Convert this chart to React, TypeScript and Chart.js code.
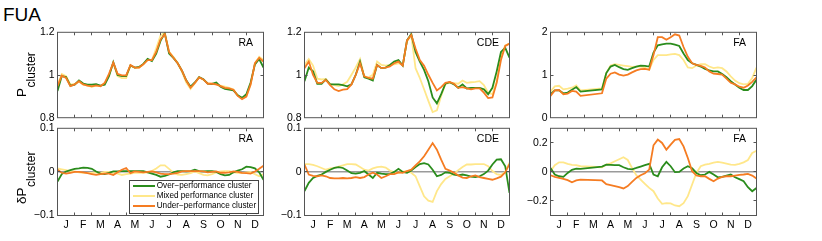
import React, { useEffect, useRef } from 'react';
import { Chart, registerables } from 'chart.js';

Chart.register(...registerables);

const FONT = "'Liberation Sans', Arial, Helvetica, sans-serif";

const MONTHS = ['J', 'F', 'M', 'A', 'M', 'J', 'J', 'A', 'S', 'O', 'N', 'D'];
const MONTH_CENTERS = [0.5, 1.5, 2.5, 3.5, 4.5, 5.5, 6.5, 7.5, 8.5, 9.5, 10.5, 11.5];
const MONTH_EDGES = [1, 2, 3, 4, 5, 6, 7, 8, 9, 10, 11];
const WEEKS = [
  0, 0.25, 0.5, 0.75, 1, 1.25, 1.5, 1.75, 2, 2.25, 2.5, 2.75, 3, 3.25, 3.5, 3.75, 4, 4.25, 4.5, 4.75,
  5, 5.25, 5.5, 5.75, 6, 6.25, 6.5, 6.75, 7, 7.25, 7.5, 7.75, 8, 8.25, 8.5, 8.75, 9, 9.25, 9.5, 9.75,
  10, 10.25, 10.5, 10.75, 11, 11.25, 11.5, 11.75, 12,
];

const SERIES = ['Over\u2212performance cluster', 'Mixed performance cluster', 'Under\u2212performance cluster'];
const COLORS = ['#2a8c1c', '#ffe78a', '#f57c22'];
const DRAW_ORDER = [2, 3, 1];

// ---- P_cluster, RA ----
const RA_P_OVER = [
  0.925, 0.995, 0.99, 0.95, 0.955, 0.975, 0.96, 0.955, 0.955, 0.957,
  0.95, 0.955, 0.995, 1.06, 1.0, 0.995, 0.995, 1.045, 1.035, 1.038,
  1.052, 1.075, 1.065, 1.1, 1.16, 1.195, 1.1, 1.08, 1.055, 1.02,
  0.975, 0.945, 0.965, 0.99, 0.98, 0.96, 0.958, 0.965, 0.945, 0.935,
  0.932, 0.928, 0.905, 0.893, 0.91, 0.965, 1.05, 1.075, 1.035,
];
const RA_P_MIXED = [
  0.955, 1.005, 0.995, 0.955, 0.958, 0.968, 0.955, 0.95, 0.945, 0.95,
  0.948, 0.962, 1.0, 1.055, 0.995, 0.985, 0.985, 1.045, 1.033, 1.033,
  1.05, 1.072, 1.07, 1.125, 1.185, 1.2, 1.11, 1.085, 1.058, 1.015,
  0.965, 0.935, 0.96, 0.99, 0.978, 0.962, 0.96, 0.955, 0.95, 0.945,
  0.94, 0.932, 0.905, 0.89, 0.9, 0.955, 1.055, 1.085, 1.07,
];
const RA_P_UNDER = [
  0.948, 0.997, 0.986, 0.948, 0.956, 0.971, 0.956, 0.95, 0.947, 0.951,
  0.947, 0.963, 1.005, 1.058, 1.005, 0.998, 0.998, 1.047, 1.035, 1.035,
  1.05, 1.07, 1.07, 1.108, 1.166, 1.192, 1.108, 1.081, 1.055, 1.02,
  0.974, 0.94, 0.963, 0.989, 0.979, 0.959, 0.959, 0.956, 0.948, 0.94,
  0.937, 0.931, 0.902, 0.887, 0.899, 0.956, 1.055, 1.081, 1.063,
];

// ---- P_cluster, CDE ----
const CDE_P_OVER = [
  0.971, 1.035, 1.017, 0.959, 0.959, 0.979, 0.956, 0.956, 0.956, 0.953,
  0.947, 0.956, 1.001, 1.063, 0.989, 0.983, 0.974, 1.047, 1.032, 1.035,
  1.047, 1.063, 1.07, 1.044, 1.162, 1.192, 1.108, 1.063, 1.024, 0.971,
  0.895, 0.867, 0.91, 0.959, 0.966, 0.956, 0.94, 0.956, 0.937, 0.94,
  0.94, 0.94, 0.933, 0.91, 0.94, 1.017, 1.108, 1.127, 1.081,
];
const CDE_P_MIXED = [
  1.047, 1.075, 1.044, 0.983, 0.979, 0.982, 0.959, 0.953, 0.948, 0.956,
  0.968, 1.001, 1.035, 1.075, 0.994, 0.989, 1.001, 1.063, 1.047, 1.044,
  1.047, 1.05, 1.055, 1.047, 1.157, 1.185, 1.032, 0.986, 0.933, 0.879,
  0.826, 0.834, 0.902, 0.959, 0.963, 0.962, 0.959, 0.974, 0.963, 0.966,
  0.968, 0.971, 0.953, 0.917, 0.91, 0.971, 1.093, 1.139, 1.147,
];
const CDE_P_UNDER = [
  1.032, 1.063, 1.001, 0.963, 0.963, 0.977, 0.953, 0.933, 0.925, 0.931,
  0.934, 0.956, 1.001, 1.055, 0.994, 0.986, 0.983, 1.047, 1.032, 1.035,
  1.04, 1.055, 1.063, 1.044, 1.162, 1.188, 1.124, 1.07, 1.044, 1.001,
  0.963, 0.928, 0.943, 0.963, 0.968, 0.959, 0.94, 0.943, 0.937, 0.933,
  0.937, 0.937, 0.917, 0.892, 0.895, 0.963, 1.07, 1.136, 1.147,
];

// ---- P_cluster, FA (weeks 9-12 missing) ----
const FA_P_OVER = [
  0.55, 0.641, 0.641, 0.572, 0.588, 0.656, 0.718, 0.611, null, null,
  null, null, 0.664, 1.046, 1.198, 1.237, 1.183, 1.137, 1.122, 1.16,
  1.198, 1.221, 1.214, 1.198, 1.527, 1.695, 1.718, 1.733, 1.733, 1.71,
  1.679, 1.504, 1.351, 1.275, 1.237, 1.198, 1.145, 1.107, 1.084, 1.084,
  1.023, 0.947, 0.855, 0.779, 0.702, 0.649, 0.649, 0.74, 0.893,
];
const FA_P_MIXED = [
  0.611, 0.733, 0.748, 0.664, 0.679, 0.702, 0.756, 0.641, null, null,
  null, null, 0.687, 1.046, 1.221, 1.252, 1.237, 1.221, 1.206, 1.191,
  1.198, 1.198, 1.176, 1.122, 1.351, 1.466, 1.466, 1.466, 1.481, 1.496,
  1.466, 1.351, 1.176, 1.16, 1.221, 1.252, 1.252, 1.198, 1.16, 1.176,
  1.16, 1.084, 0.969, 0.87, 0.809, 0.779, 0.794, 0.931, 1.176,
];
const FA_P_UNDER = [
  0.511, 0.641, 0.649, 0.55, 0.565, 0.626, 0.611, 0.511, null, null,
  null, null, 0.572, 0.916, 1.03, 1.061, 1.008, 0.985, 1.008, 1.061,
  1.107, 1.137, 1.145, 1.122, 1.466, 1.885, 1.885, 1.824, 1.885, 1.954,
  1.924, 1.656, 1.427, 1.275, 1.237, 1.214, 1.176, 1.084, 1.03, 1.023,
  1.008, 0.916, 0.817, 0.779, 0.725, 0.702, 0.756, 0.84, 0.947,
];

// ---- deltaP_cluster, RA ----
const RA_D_OVER = [
  -0.022, -0.005, 0.001, 0.004, 0.007, 0.008, 0.01, 0.009, 0.007, 0.001,
  -0.004, -0.005, -0.002, 0.001, 0.001, 0.002, 0.002, 0.002, 0.002, 0.002,
  0.002, -0.001, -0.004, -0.007, -0.011, -0.009, -0.006, -0.001, 0.002, 0.002,
  0.001, 0.002, 0.005, 0.002, 0.001, 0.002, 0.002, 0, -0.005, -0.008,
  -0.007, -0.001, 0.003, 0.006, 0.012, 0.011, 0.008, -0.001, -0.018,
];
const RA_D_MIXED = [
  0.008, 0.006, 0.004, 0.002, 0.001, -0.001, -0.002, -0.003, -0.002, -0.001,
  -0.002, 0, 0, -0.002, -0.004, -0.007, -0.005, -0.004, -0.002, -0.002,
  -0.002, -0.001, 0.002, 0.008, 0.015, 0.015, 0.007, -0.002, -0.006, -0.007,
  -0.005, -0.003, 0.001, -0.003, -0.007, -0.008, -0.005, -0.001, 0.001, 0.002,
  0.002, -0.001, -0.002, -0.003, -0.001, 0, -0.005, -0.01, -0.005,
];
const RA_D_UNDER = [
  0.005, -0.002, -0.004, -0.002, 0, 0, -0.001, -0.003, -0.005, -0.007,
  -0.005, -0.004, -0.004, -0.007, -0.001, 0.005, 0.009, -0.003, 0.001, 0,
  -0.001, 0, 0.001, -0.001, -0.004, -0.005, -0.005, -0.004, -0.002, 0.001,
  0.002, 0.002, 0.002, 0.002, 0.001, -0.001, 0, 0.001, -0.002, -0.002,
  -0.001, 0.001, 0, -0.002, -0.003, -0.004, 0.001, 0.007, 0.014,
];

// ---- deltaP_cluster, CDE ----
const CDE_D_OVER = [
  -0.044, -0.025, -0.014, -0.009, -0.006, 0, 0.005, 0.009, 0.011, 0.009,
  0.003, -0.003, -0.004, -0.002, 0.002, -0.006, -0.014, -0.002, -0.004, -0.005,
  -0.005, 0, 0.007, 0, -0.002, 0.003, 0.011, 0.018, 0.02, 0.017,
  0.005, -0.01, -0.007, -0.001, -0.002, -0.006, -0.008, -0.006, -0.008, -0.011,
  -0.012, -0.01, -0.005, 0.003, 0.017, 0.028, 0.029, 0.013, -0.048,
];
const CDE_D_MIXED = [
  0.018, 0.018, 0.016, 0.013, 0.009, 0.005, 0.008, 0.009, 0.012, 0.015,
  0.018, 0.018, 0.017, 0.011, 0.005, 0.003, 0.008, 0.011, 0.012, 0.01,
  0.003, -0.001, -0.002, 0, 0.002, -0.002, -0.01, -0.033, -0.056, -0.066,
  -0.069, -0.044, -0.028, -0.016, -0.01, -0.004, 0.004, 0.011, 0.017, 0.017,
  0.018, 0.018, 0.018, 0.013, 0.002, -0.005, -0.007, 0, 0.021,
];
const CDE_D_UNDER = [
  0.017, -0.006, -0.009, -0.01, -0.008, -0.01, -0.014, -0.015, -0.015, -0.014,
  -0.015, -0.014, -0.012, -0.014, -0.012, -0.006, -0.002, -0.006, -0.014, -0.01,
  -0.005, -0.005, -0.001, -0.002, 0.002, 0.005, 0.015, 0.024, 0.036, 0.051,
  0.066, 0.051, 0.028, 0.007, 0.003, -0.002, -0.008, -0.013, -0.014, -0.01,
  -0.008, -0.012, -0.014, -0.016, -0.018, -0.015, -0.011, -0.001, 0.018,
];

// ---- deltaP_cluster, FA (weeks 9-12 missing) ----
const FA_D_OVER = [
  0.027, -0.018, -0.03, -0.034, -0.007, 0.014, 0.023, 0.021, null, null,
  null, null, 0.037, 0.05, 0.048, 0.046, 0.046, 0.032, 0.021, 0.018,
  0.027, 0.037, 0.046, 0.055, -0.018, -0.03, 0.032, 0.069, 0.039, -0.002,
  0, 0.023, 0.039, 0.025, -0.007, -0.023, -0.018, 0, -0.018, -0.037,
  -0.034, -0.025, -0.018, -0.037, -0.05, -0.064, -0.105, -0.133, -0.11,
];
const FA_D_MIXED = [
  0.005, 0.046, 0.066, 0.066, 0.055, 0.048, 0.046, 0.039, null, null,
  null, null, 0.032, 0.05, 0.059, 0.073, 0.087, 0.101, 0.082, 0.027,
  -0.023, -0.053, -0.082, -0.11, -0.133, -0.183, -0.22, -0.215, -0.217, -0.231,
  -0.236, -0.215, -0.167, -0.087, -0.007, 0.039, 0.05, 0.055, 0.064, 0.069,
  0.064, 0.057, 0.05, 0.048, 0.055, 0.066, 0.082, 0.13, 0.146,
];
const FA_D_UNDER = [
  -0.023, -0.034, -0.041, -0.048, -0.057, -0.071, -0.059, -0.053, null, null,
  null, null, -0.059, -0.085, -0.091, -0.098, -0.105, -0.114, -0.098, -0.069,
  -0.041, -0.023, -0.009, 0.016, 0.183, 0.222, 0.199, 0.153, 0.188, 0.22,
  0.226, 0.176, 0.096, 0.005, -0.025, -0.03, -0.03, -0.048, -0.064, -0.046,
  -0.034, -0.03, -0.03, -0.025, -0.021, -0.018, -0.014, -0.025, -0.046,
];

const TICKS_P = [0.8, 1, 1.2];
const TICKS_P_FA = [0, 1, 2];
const TICKS_D = [-0.1, 0, 0.1];
const TICKS_D_FA = [-0.2, 0, 0.2];

type Vals = (number | null)[];
interface Spec {
  title: string;
  row: number;
  col: number;
  over: Vals;
  mixed: Vals;
  under: Vals;
  min: number;
  max: number;
  ticks: number[];
}

const SPECS: Spec[] = [
  { title: 'RA', row: 0, col: 0, over: RA_P_OVER, mixed: RA_P_MIXED, under: RA_P_UNDER, min: 0.8, max: 1.2, ticks: TICKS_P },
  { title: 'CDE', row: 0, col: 1, over: CDE_P_OVER, mixed: CDE_P_MIXED, under: CDE_P_UNDER, min: 0.8, max: 1.2, ticks: TICKS_P },
  { title: 'FA', row: 0, col: 2, over: FA_P_OVER, mixed: FA_P_MIXED, under: FA_P_UNDER, min: 0, max: 2, ticks: TICKS_P_FA },
  { title: 'RA', row: 1, col: 0, over: RA_D_OVER, mixed: RA_D_MIXED, under: RA_D_UNDER, min: -0.1, max: 0.1, ticks: TICKS_D },
  { title: 'CDE', row: 1, col: 1, over: CDE_D_OVER, mixed: CDE_D_MIXED, under: CDE_D_UNDER, min: -0.1, max: 0.1, ticks: TICKS_D },
  { title: 'FA', row: 1, col: 2, over: FA_D_OVER, mixed: FA_D_MIXED, under: FA_D_UNDER, min: -0.3, max: 0.3, ticks: TICKS_D_FA },
];

// layout
const Y_AXIS_W = 40.5;
const PAD_RIGHT = 4.5;
const COLS = [
  { canvasLeft: 17, canvasW: 251 },
  { canvasLeft: 264, canvasW: 250 },
  { canvasLeft: 510, canvasW: 251 },
];
const ROWS = [
  { canvasTop: 23, canvasH: 104, padTop: 8.5, padBottom: 8.5, xAxisH: 0 },
  { canvasTop: 119, canvasH: 115, padTop: 8.5, padBottom: 0.5, xAxisH: 18 },
];

function fmt(v: number): string {
  const r = Math.round(v * 10) / 10;
  return r < 0 ? '\u2212' + String(-r) : String(r);
}

const framePlugin = {
  id: 'panelFrame',
  afterDatasetsDraw(chart: any) {
    const { ctx, chartArea: a, scales } = chart;
    ctx.save();
    ctx.strokeStyle = '#555';
    ctx.lineWidth = 1;
    ctx.beginPath();
    for (const m of MONTH_EDGES) {
      const px = Math.floor(scales.x.getPixelForValue(m)) + 0.5;
      ctx.moveTo(px, a.top);
      ctx.lineTo(px, a.top + 3);
      ctx.moveTo(px, a.bottom);
      ctx.lineTo(px, a.bottom - 3);
    }
    for (const t of scales.y.ticks) {
      const py = Math.floor(scales.y.getPixelForValue(t.value)) + 0.5;
      if (py <= a.top + 1 || py >= a.bottom - 1) continue;
      ctx.moveTo(a.left, py);
      ctx.lineTo(a.left + 3, py);
      ctx.moveTo(a.right, py);
      ctx.lineTo(a.right - 3, py);
    }
    ctx.stroke();
    ctx.strokeRect(a.left, a.top, a.right - a.left, a.bottom - a.top);
    ctx.restore();
  },
};

function buildConfig(spec: Spec): any {
  const row = ROWS[spec.row];
  const isDelta = spec.row === 1;
  const tickFont = { family: FONT, size: 10.5 };
  const datasets = [spec.over, spec.mixed, spec.under].map((vals, i) => ({
    label: SERIES[i],
    data: WEEKS.map((x, j) => ({ x, y: vals[j] })),
    borderColor: COLORS[i],
    backgroundColor: COLORS[i],
    borderWidth: 1.8,
    pointRadius: 0,
    tension: 0,
    fill: false,
    order: DRAW_ORDER[i],
    spanGaps: true,
  }));
  return {
    type: 'line',
    data: { datasets },
    options: {
      animation: false,
      responsive: false,
      maintainAspectRatio: false,
      events: [],
      layout: { padding: { left: 0, right: PAD_RIGHT, top: row.padTop, bottom: row.padBottom } },
      plugins: { legend: { display: false }, tooltip: { enabled: false }, title: { display: false } },
      scales: {
        x: {
          type: 'linear',
          min: 0,
          max: 12,
          afterBuildTicks: (s: any) => {
            s.ticks = MONTH_CENTERS.map((v) => ({ value: v }));
          },
          afterFit: (s: any) => {
            s.height = row.xAxisH;
          },
          ticks: {
            display: isDelta,
            autoSkip: false,
            maxRotation: 0,
            minRotation: 0,
            padding: 3,
            color: '#000',
            font: tickFont,
            callback: (_v: any, i: number) => MONTHS[i],
          },
          grid: { display: false, drawTicks: false },
          border: { display: false },
        },
        y: {
          type: 'linear',
          min: spec.min,
          max: spec.max,
          afterBuildTicks: (s: any) => {
            s.ticks = spec.ticks.map((v) => ({ value: v }));
          },
          afterFit: (s: any) => {
            s.width = Y_AXIS_W;
          },
          ticks: {
            autoSkip: false,
            padding: 3,
            color: '#000',
            font: tickFont,
            callback: (v: any) => fmt(Number(v)),
          },
          grid: {
            display: isDelta,
            drawTicks: false,
            lineWidth: 1.5,
            color: (c: any) => (c.tick && c.tick.value === 0 ? '#9a9a9a' : 'rgba(0,0,0,0)'),
          },
          border: { display: false },
        },
      },
    },
    plugins: [framePlugin],
  };
}

function Panel({ spec }: { spec: Spec }) {
  const ref = useRef<HTMLCanvasElement>(null);
  const col = COLS[spec.col];
  const row = ROWS[spec.row];
  useEffect(() => {
    if (!ref.current) return;
    const chart = new Chart(ref.current, buildConfig(spec));
    return () => chart.destroy();
  }, [spec]);
  return (
    <canvas
      ref={ref}
      width={col.canvasW}
      height={row.canvasH}
      style={{ position: 'absolute', left: col.canvasLeft, top: row.canvasTop, width: col.canvasW, height: row.canvasH }}
    />
  );
}

function PanelLabel({ spec }: { spec: Spec }) {
  const col = COLS[spec.col];
  const row = ROWS[spec.row];
  const plotRight = col.canvasLeft + col.canvasW - PAD_RIGHT;
  const plotTop = row.canvasTop + row.padTop;
  return (
    <div
      style={{
        position: 'absolute',
        left: plotRight - 10.5 - 60,
        width: 60,
        top: plotTop + 5.6,
        textAlign: 'right',
        fontSize: 10.5,
        lineHeight: '10.5px',
        whiteSpace: 'nowrap',
      }}
    >
      {spec.title}
    </div>
  );
}

function AxisTitle({ top, prefix }: { top: number; prefix: string }) {
  return (
    <div
      style={{
        position: 'absolute',
        left: 15,
        top,
        transformOrigin: '0 0',
        transform: 'rotate(-90deg)',
        whiteSpace: 'nowrap',
        fontSize: 13.5,
        lineHeight: '13.5px',
      }}
    >
      {prefix}
      <span style={{ position: 'relative', top: 8.5, fontSize: 12, marginLeft: 0.5 }}>cluster</span>
    </div>
  );
}

const LEGEND_ROW_CENTERS = [5.3, 15, 24.7];

function Legend() {
  return (
    <div
      style={{
        position: 'absolute',
        left: 129,
        top: 180,
        width: 130,
        height: 33.5,
        boxSizing: 'border-box',
        border: '1px solid #444',
        background: '#fff',
      }}
    >
      {SERIES.map((name, i) => (
        <React.Fragment key={name}>
          <div
            style={{
              position: 'absolute',
              left: 3.3,
              top: LEGEND_ROW_CENTERS[i] - 1,
              width: 22,
              height: 2,
              background: COLORS[i],
            }}
          />
          <div
            style={{
              position: 'absolute',
              left: 26.7,
              top: LEGEND_ROW_CENTERS[i] - 4.9,
              fontSize: 8.2,
              lineHeight: '10px',
              whiteSpace: 'nowrap',
            }}
          >
            {name}
          </div>
        </React.Fragment>
      ))}
    </div>
  );
}

export default function App() {
  return (
    <div
      style={{
        position: 'fixed',
        left: 0,
        top: 0,
        width: 822,
        height: 241,
        background: '#fff',
        overflow: 'hidden',
        fontFamily: FONT,
        color: '#000',
      }}
    >
      <div style={{ position: 'absolute', left: 3, top: 4.6, fontSize: 19, lineHeight: '19px' }}>FUA</div>
      {SPECS.map((s) => (
        <Panel key={`${s.row}-${s.col}`} spec={s} />
      ))}
      {SPECS.map((s) => (
        <PanelLabel key={`l-${s.row}-${s.col}`} spec={s} />
      ))}
      <AxisTitle top={96.7} prefix="P" />
      <AxisTitle top={204} prefix={'\u03b4P'} />
      <Legend />
    </div>
  );
}
